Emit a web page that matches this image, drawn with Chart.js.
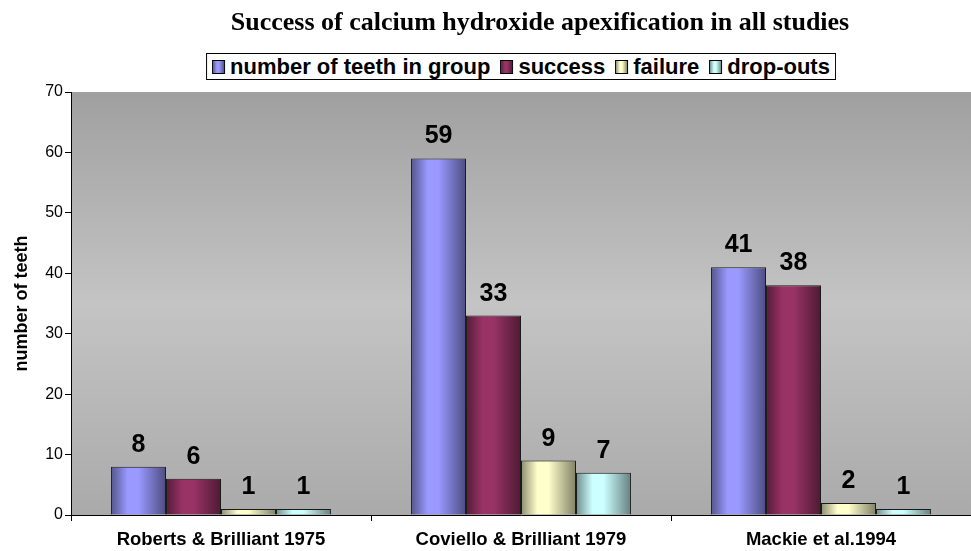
<!DOCTYPE html>
<html>
<head>
<meta charset="utf-8">
<script src="https://cdn.jsdelivr.net/npm/chart.js@4"></script>
<style>
  body { margin: 0; background: #fff; }
  #wrap { position: relative; width: 971px; height: 551px; }
  #title {
    position: absolute; top: 7px; left: 540px; transform: translateX(-50%);
    white-space: nowrap; line-height: 26px;
    font: bold 26px "Liberation Serif", "Times New Roman", serif; color: #000;
  }
  #legend {
    position: absolute; top: 53px; left: 521px; transform: translateX(-50%);
    height: 25px; padding: 0 5px; border: 1px solid #000; background: #fff;
    display: flex; align-items: center; gap: 10px; white-space: nowrap;
    font: bold 22px "Liberation Sans", Arial, sans-serif; color: #000;
  }
  #legend .item { display: flex; align-items: center; gap: 5px; }
  #legend .sw { width: 11px; height: 12px; border: 1px solid #000; }
</style>
</head>
<body>
<div id="wrap">
  <div id="title">Success of calcium hydroxide apexification in all studies</div>
  <div id="legend"></div>
  <canvas id="myChart" width="971" height="551"></canvas>
</div>
<script>
const categories = ["Roberts & Brilliant 1975", "Coviello & Brilliant 1979", "Mackie et al.1994"];
const teethInGroup = [8, 59, 41];
const success = [6, 33, 38];
const failure = [1, 9, 2];
const dropOuts = [1, 7, 1];
const seriesNames = ["number of teeth in group", "success", "failure", "drop-outs"];
const baseColors = ["#9999ff", "#993366", "#ffffcc", "#ccffff"];
const yMax = 70;
const yStep = 10;

const catPct = 0.733;
const allData = [teethInGroup, success, failure, dropOuts];

function shade(hex, f) {
  const n = parseInt(hex.slice(1), 16);
  const r = Math.round(((n >> 16) & 255) * f);
  const g = Math.round(((n >> 8) & 255) * f);
  const b = Math.round((n & 255) * f);
  return `rgb(${r},${g},${b})`;
}

// legend (html, boxed like the excel one)
const legendEl = document.getElementById("legend");
seriesNames.forEach((name, i) => {
  const item = document.createElement("span");
  item.className = "item";
  const sw = document.createElement("span");
  sw.className = "sw";
  sw.style.background = `linear-gradient(90deg, ${shade(baseColors[i], 0.6)}, ${baseColors[i]} 35%, ${baseColors[i]} 55%, ${shade(baseColors[i], 0.55)})`;
  const txt = document.createElement("span");
  txt.textContent = name;
  item.appendChild(sw);
  item.appendChild(txt);
  legendEl.appendChild(item);
});

// horizontal gradient per bar, like the old excel cylinders
function barFill(ctx) {
  const base = baseColors[ctx.datasetIndex];
  const chart = ctx.chart;
  const xs = chart.scales && chart.scales.x;
  if (!xs || !isFinite(xs.width) || xs.width <= 0 || ctx.dataIndex === undefined) return base;
  const bw = (xs.width / categories.length) * catPct / 4;
  const left = xs.getPixelForValue(ctx.dataIndex) - 2 * bw + ctx.datasetIndex * bw;
  if (!isFinite(left)) return base;
  const g = chart.ctx.createLinearGradient(left, 0, left + bw, 0);
  g.addColorStop(0, shade(base, 0.55));
  g.addColorStop(0.3, base);
  g.addColorStop(0.5, base);
  g.addColorStop(1, shade(base, 0.5));
  return g;
}

const plotBg = {
  id: "plotBg",
  beforeDraw(chart) {
    const { ctx, chartArea: a } = chart;
    const g = ctx.createLinearGradient(0, a.top, 0, a.bottom);
    g.addColorStop(0, "#a0a0a0");
    g.addColorStop(0.5, "#c4c4c4");
    g.addColorStop(1, "#aaaaaa");
    ctx.save();
    ctx.fillStyle = g;
    ctx.fillRect(a.left, a.top, a.right - a.left, a.bottom - a.top);
    ctx.restore();
  },
};

const valueLabels = {
  id: "valueLabels",
  afterDatasetsDraw(chart) {
    const ctx = chart.ctx;
    ctx.save();
    ctx.font = "bold 25px 'Liberation Sans', Arial, sans-serif";
    ctx.fillStyle = "#000";
    ctx.textAlign = "center";
    ctx.textBaseline = "alphabetic";
    chart.data.datasets.forEach((ds, di) => {
      chart.getDatasetMeta(di).data.forEach((el, i) => {
        ctx.fillText(String(ds.data[i]), el.x, el.y - 15);
      });
    });
    ctx.restore();
  },
};

let ctx1 = document.getElementById("myChart").getContext("2d");
let myChart = new Chart(ctx1, {
  type: "bar",
  data: {
    labels: categories,
    datasets: seriesNames.map((name, i) => ({
      label: name,
      data: allData[i],
      backgroundColor: barFill,
      borderColor: "#1a1a1a",
      borderWidth: 1,
      categoryPercentage: catPct,
      barPercentage: 1,
    })),
  },
  options: {
    responsive: false,
    animation: false,
    layout: { padding: { top: 92, left: 0, right: 0, bottom: 0 } },
    plugins: {
      title: { display: false },
      legend: { display: false },
      tooltip: { enabled: false },
    },
    scales: {
      x: {
        afterFit: (s) => { s.height = 36; },
        grid: { display: true, drawOnChartArea: false, drawTicks: true, tickLength: 6, color: "#000", offset: true },
        border: { display: true, color: "#000", width: 1 },
        ticks: {
          color: "#000",
          padding: 8,
          maxRotation: 0,
          font: { family: "'Liberation Sans', Arial, sans-serif", size: 18.5, weight: "bold" },
        },
      },
      y: {
        min: 0,
        max: yMax,
        afterFit: (s) => { s.width = 71; },
        grid: { display: true, drawOnChartArea: false, drawTicks: true, tickLength: 6, color: "#000" },
        border: { display: true, color: "#000", width: 1 },
        ticks: {
          stepSize: yStep,
          color: "#000",
          padding: 2,
          font: { family: "'Liberation Sans', Arial, sans-serif", size: 16 },
        },
        title: {
          display: true,
          text: "number of teeth",
          color: "#000",
          padding: { top: 11, bottom: 0 },
          font: { family: "'Liberation Sans', Arial, sans-serif", size: 18, weight: "bold" },
        },
      },
    },
  },
  plugins: [plotBg, valueLabels],
});
</script>
</body>
</html>
